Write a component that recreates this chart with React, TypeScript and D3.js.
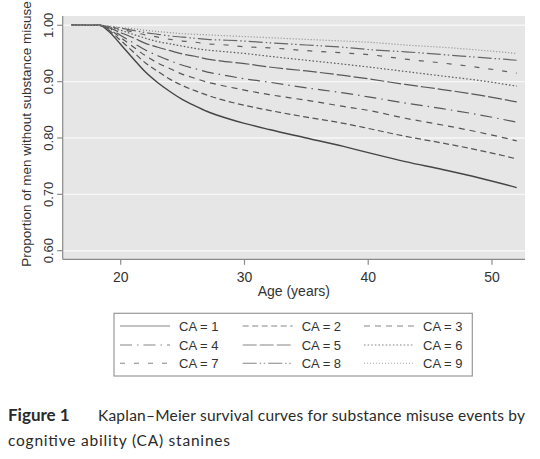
import React from "react";
import * as d3 from "d3";

const ages = [16, 18.3, 19, 20, 21, 22, 23, 24, 25, 26, 27, 28, 30, 32, 35, 38, 40, 43, 46, 49, 52];

const ca1 = [1, 1, 0.990, 0.966, 0.941, 0.917, 0.898, 0.882, 0.868, 0.857, 0.847, 0.839, 0.826, 0.815, 0.800, 0.785, 0.774, 0.758, 0.744, 0.729, 0.712];
const ca2 = [1, 1, 0.992, 0.973, 0.953, 0.933, 0.918, 0.904, 0.893, 0.884, 0.876, 0.869, 0.858, 0.849, 0.837, 0.826, 0.817, 0.803, 0.791, 0.778, 0.763];
const ca3 = [1, 1, 0.994, 0.978, 0.962, 0.946, 0.933, 0.923, 0.913, 0.906, 0.899, 0.894, 0.885, 0.877, 0.867, 0.856, 0.849, 0.835, 0.823, 0.810, 0.795];
const ca4 = [1, 1, 0.995, 0.982, 0.969, 0.956, 0.946, 0.937, 0.929, 0.923, 0.917, 0.913, 0.905, 0.899, 0.889, 0.880, 0.873, 0.862, 0.852, 0.841, 0.828];
const ca5 = [1, 1, 0.996, 0.987, 0.978, 0.968, 0.961, 0.955, 0.949, 0.945, 0.940, 0.937, 0.932, 0.926, 0.919, 0.911, 0.905, 0.895, 0.886, 0.876, 0.864];
const ca6 = [1, 1, 0.997, 0.991, 0.984, 0.977, 0.971, 0.967, 0.963, 0.959, 0.956, 0.954, 0.950, 0.945, 0.938, 0.931, 0.926, 0.918, 0.910, 0.902, 0.892];
const ca7 = [1, 1, 0.998, 0.993, 0.988, 0.983, 0.979, 0.975, 0.972, 0.970, 0.967, 0.966, 0.962, 0.960, 0.955, 0.951, 0.948, 0.940, 0.933, 0.925, 0.915];
const ca8 = [1, 1, 0.998, 0.995, 0.991, 0.987, 0.984, 0.981, 0.979, 0.977, 0.975, 0.974, 0.972, 0.969, 0.965, 0.961, 0.957, 0.953, 0.948, 0.943, 0.938];
const ca9 = [1, 1, 0.999, 0.996, 0.994, 0.991, 0.989, 0.987, 0.985, 0.984, 0.983, 0.982, 0.980, 0.978, 0.975, 0.972, 0.970, 0.965, 0.961, 0.956, 0.950];

const seriesNames = ["CA = 1", "CA = 2", "CA = 3", "CA = 4", "CA = 5", "CA = 6", "CA = 7", "CA = 8", "CA = 9"];
const seriesValues = [ca1, ca2, ca3, ca4, ca5, ca6, ca7, ca8, ca9];

const xTicks = [20, 30, 40, 50];
const yTicks = [0.6, 0.7, 0.8, 0.9, 1.0];

// line look per group (stata-like patterns)
const dashes = ["", "6,3.5", "6,5", "12,5,1.5,5", "14,3", "1.6,2", "5,9", "14,3,1.5,2.5,1.5,3", "1,2"];
const strokes = ["#454545", "#555", "#555", "#585858", "#585858", "#5e5e5e", "#606060", "#666", "#8c8c8c"];

const W = 540;
const H = 459;
const plot = { left: 62.7, right: 525, top: 16, bottom: 259.3 };

export default function App() {
  const x = d3.scaleLinear().domain([15.31, 52.67]).range([plot.left, plot.right]);
  const y = d3.scaleLinear().domain([0.5847, 1.0165]).range([plot.bottom, plot.top]);

  const line = d3
    .line<number>()
    .x((_, i) => x(ages[i]))
    .y((d) => y(d))
    .curve(d3.curveMonotoneX);

  const legendCols = [120, 242.7, 364];
  const legendRows = [326, 345, 363.3];

  return (
    <div style={{ position: "absolute", left: 0, top: 0 }}>
      <svg width={W} height={H} style={{ display: "block", background: "#fff" }}>
        {/* plot region */}
        <rect x={plot.left} y={plot.top} width={plot.right - plot.left} height={plot.bottom - plot.top} fill="#e6e6e6" />
        {yTicks.map((t) => (
          <line key={t} x1={plot.left} x2={plot.right} y1={y(t)} y2={y(t)} stroke="#f7f7f7" strokeWidth={1.4} />
        ))}

        {/* curves */}
        <g fill="none">
          {seriesValues.map((vals, i) => (
            <path
              key={seriesNames[i]}
              d={line(vals) || ""}
              stroke={strokes[i]}
              strokeWidth={i === 0 ? 1.4 : 1.2}
              strokeDasharray={dashes[i] || undefined}
            />
          ))}
        </g>

        {/* axes */}
        <g stroke="#8a8a8a" strokeWidth={1.2}>
          <line x1={plot.left} x2={plot.left} y1={plot.top} y2={plot.bottom} />
          <line x1={plot.left} x2={plot.right} y1={plot.bottom} y2={plot.bottom} />
          {yTicks.map((t) => (
            <line key={t} x1={plot.left - 5.5} x2={plot.left} y1={y(t)} y2={y(t)} />
          ))}
          {xTicks.map((t) => (
            <line key={t} x1={x(t)} x2={x(t)} y1={plot.bottom} y2={plot.bottom + 5.5} />
          ))}
        </g>
        <g fontFamily="Liberation Sans, Arial, sans-serif" fill="#333">
          {xTicks.map((t) => (
            <text key={t} x={x(t)} y={281.7} fontSize={14} textAnchor="middle">
              {t}
            </text>
          ))}
          {yTicks.map((t) => (
            <text
              key={t}
              transform={`translate(53.3,${y(t)}) rotate(-90)`}
              fontSize={13}
              textAnchor="middle"
            >
              {d3.format(".2f")(t)}
            </text>
          ))}
          <text x={(plot.left + plot.right) / 2} y={296} fontSize={14} textAnchor="middle">
            Age (years)
          </text>
          <text transform={`translate(30.5,134) rotate(-90)`} fontSize={13.5} textAnchor="middle">
            Proportion of men without substance misuse
          </text>
        </g>

        {/* legend */}
        <rect x={114} y={313.3} width={358.3} height={62.7} fill="#fff" stroke="#999" strokeWidth={1.2} />
        {seriesNames.map((name, i) => {
          const cx = legendCols[i % 3];
          const cy = legendRows[Math.floor(i / 3)];
          return (
            <g key={name}>
              <line
                x1={cx}
                x2={cx + 50}
                y1={cy}
                y2={cy}
                stroke={i === 8 ? "#aaa" : "#858585"}
                strokeWidth={1.1}
                strokeDasharray={dashes[i] || undefined}
              />
              <text
                x={cx + 59}
                y={cy + 4.8}
                fontSize={13}
                fontFamily="Liberation Sans, Arial, sans-serif"
                fill="#333"
              >
                {name}
              </text>
            </g>
          );
        })}

        {/* caption */}
        <g fontFamily="Lato, 'Open Sans', sans-serif" fill="#2a2a2a">
          <text x={8} y={421} fontSize={17} fontWeight={700}>
            Figure 1
          </text>
          <text x={98} y={421} fontSize={15.5} textLength={427} lengthAdjust="spacing">
            Kaplan–Meier survival curves for substance misuse events by
          </text>
          <text x={8} y={446} fontSize={15.5} textLength={222} lengthAdjust="spacing">
            cognitive ability (CA) stanines
          </text>
        </g>
      </svg>
    </div>
  );
}
